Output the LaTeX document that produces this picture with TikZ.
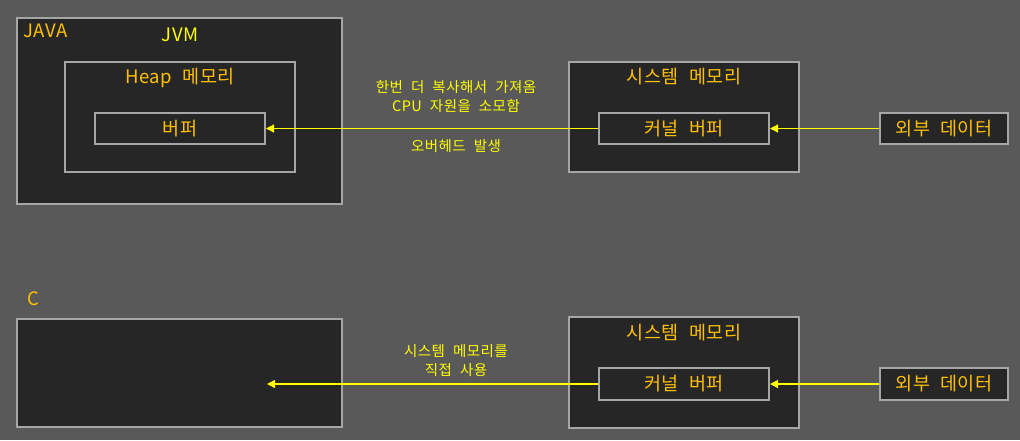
\documentclass[tikz,border=0pt]{standalone}
\usepackage{fontspec}
\setmainfont{Noto Sans CJK KR}
\newfontfamily\widekr[WordSpace=2.2,LetterSpace=3]{Noto Sans CJK KR}
\usetikzlibrary{arrows.meta}
\definecolor{bgcol}{HTML}{595959}
\definecolor{boxfill}{HTML}{262626}
\definecolor{boxline}{HTML}{A6A6A6}
\definecolor{orangetext}{HTML}{FFC000}
\definecolor{yellowtext}{HTML}{FFFF00}
\begin{document}
\begin{tikzpicture}[x=1pt,y=-1pt,
  box/.style={draw=boxline, fill=boxfill, line width=2pt, inner sep=0pt,
    text=orangetext, font=\widekr\fontsize{18.5}{18.5}\selectfont},
  title/.style={text=orangetext, font=\widekr\fontsize{18.5}{18.5}\selectfont},
  note/.style={text=yellowtext, font=\widekr\fontsize{14.5}{19}\selectfont, align=center},
  flow/.style={draw=yellowtext, line width=1.2pt, -{Triangle[length=8pt,width=8pt]}}]
\fill[bgcol] (0,0) rectangle (1020,440);
\useasboundingbox (0,0) rectangle (1020,440);

% JAVA
\node[box, minimum width=325, minimum height=186] (java) at (179.5,111) {};
\node[box, minimum width=230, minimum height=110] (heap) at (180,117) {};
\node[box, minimum width=170, minimum height=31] (buf) at (180,128.5) {버퍼};
\node[box, minimum width=230, minimum height=110] (sys1) at (684,117) {};
\node[box, minimum width=170, minimum height=31] (kbuf1) at (684,128.5) {커널 버퍼};
\node[box, minimum width=128, minimum height=31] (ext1) at (944,128.5) {외부 데이터};

\node[title, anchor=west] (javalbl) at (20,31) {JAVA};
\node[title, text=yellowtext] (jvmlbl) at (180,35) {JVM};
\node[title] (heaplbl) at (180,78) {Heap 메모리};
\node[title] (sys1lbl) at (684,77) {시스템 메모리};

\path[flow] (ext1) -- (kbuf1);
\path[flow] (kbuf1) -- (buf);

\node[note] (copy) at (456,97) {한번 더 복사해서 가져옴\\CPU 자원을 소모함};
\node[note] (over) at (456,146) {오버헤드 발생};

% C
\node[box, minimum width=325, minimum height=108] (cmem) at (179.5,373) {};
\node[box, minimum width=230, minimum height=111] (sys2) at (684,372.5) {};
\node[box, minimum width=170, minimum height=32] (kbuf2) at (684,384) {커널 버퍼};
\node[box, minimum width=128, minimum height=32] (ext2) at (944,384) {외부 데이터};
\coordinate (cend) at (267,384);

\node[title] (clbl) at (33,299) {C};
\node[title] (sys2lbl) at (684,333) {시스템 메모리};

\path[flow] (ext2) -- (kbuf2);
\path[flow] (kbuf2) -- (cend);

\node[note] (direct) at (456,361) {시스템 메모리를\\직접 사용};
\end{tikzpicture}
\end{document}
